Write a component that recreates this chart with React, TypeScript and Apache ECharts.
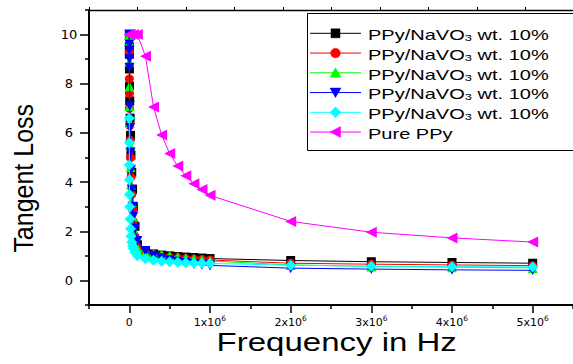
import React, { useEffect, useRef } from "react";
import * as echarts from "echarts";

const FONT = '"Liberation Sans", Arial, sans-serif';
const TICK_FONT = '"DejaVu Sans", "Liberation Sans", sans-serif';

// Frequencies (Hz) of the composite samples
const freqComposite = [
  100, 200, 500, 1e3, 2e3, 5e3, 1e4, 1.5e4, 2e4, 3e4, 4e4, 5e4, 7e4, 1e5,
  2e5, 3e5, 4e5, 5e5, 6e5, 7e5, 8e5, 9e5, 1e6, 2e6, 3e6, 4e6, 5e6,
];
const tanBlack = [
  10, 9.5, 9.2, 8.6, 7.9, 7.3, 6.6, 5.9, 5.1, 4.4, 3.7, 3.0, 2.2, 1.45,
  1.18, 1.08, 1.03, 1.0, 0.97, 0.95, 0.93, 0.91, 0.89, 0.81, 0.76, 0.73, 0.7,
];
const tanRed = [
  10, 9.3, 8.2, 7.6, 7.0, 6.3, 5.7, 5.0, 4.2, 3.5, 2.9, 2.4, 1.8, 1.35,
  1.12, 1.04, 0.99, 0.95, 0.92, 0.89, 0.87, 0.85, 0.83, 0.7, 0.66, 0.63, 0.6,
];
const tanGreen = [
  10, 9.7, 8.9, 7.9, 7.1, 6.4, 5.5, 4.6, 3.9, 3.2, 2.6, 2.1, 1.7, 1.32,
  1.15, 1.1, 1.05, 1.0, 0.95, 0.91, 0.87, 0.83, 0.79, 0.63, 0.57, 0.54, 0.51,
];
const tanBlue = [
  10, 9.6, 9.35, 9.0, 8.65, 7.1, 6.2, 5.2, 4.5, 3.7, 3.0, 2.6, 2.1, 1.6,
  1.2, 1.0, 0.9, 0.82, 0.76, 0.71, 0.67, 0.64, 0.61, 0.5, 0.46, 0.43, 0.41,
];
const tanCyan = [
  6.6, 5.6, 4.7, 4.1, 3.5, 3.0, 2.5, 2.1, 1.8, 1.55, 1.4, 1.3, 1.15, 1.0,
  0.88, 0.82, 0.78, 0.76, 0.74, 0.72, 0.71, 0.7, 0.69, 0.62, 0.58, 0.56, 0.55,
];

// Pure PPy
const freqPure = [
  100, 1e3, 1e4, 5e4, 1e5, 2e5, 3e5, 4e5, 5e5, 6e5, 7e5, 8e5, 9e5, 1e6, 2e6,
  3e6, 4e6, 5e6,
];
const tanPure = [
  10, 10, 10, 10, 10, 9.12, 7.05, 5.92, 5.16, 4.65, 4.26, 3.93, 3.7, 3.46,
  2.4, 1.96, 1.73, 1.56,
];

const xTickValues = [0, 1e6, 2e6, 3e6, 4e6, 5e6];
const yTickValues = [0, 2, 4, 6, 8, 10];
const legendLabels = [
  "PPy/NaVO3 wt. 10%",
  "PPy/NaVO3 wt. 10%",
  "PPy/NaVO3 wt. 10%",
  "PPy/NaVO3 wt. 10%",
  "PPy/NaVO3 wt. 10%",
  "Pure PPy",
];
const seriesColors = ["#000000", "#ff0000", "#00ff00", "#0000ff", "#00ffff", "#ff00ff"];
const seriesSymbols = ["rect", "circle", "triangle", "triangleDown", "diamond", "triangleLeft"];
const xTitle = "Frequency in Hz";
const yTitle = "Tangent Loss";

const seriesDefs = [
  { freq: freqComposite, vals: tanBlack },
  { freq: freqComposite, vals: tanRed },
  { freq: freqComposite, vals: tanGreen },
  { freq: freqComposite, vals: tanBlue },
  { freq: freqComposite, vals: tanCyan },
  { freq: freqPure, vals: tanPure },
];

function symbolOpts(sym: string) {
  switch (sym) {
    case "rect":
      return { symbol: "rect", symbolSize: 9, symbolRotate: 0 };
    case "circle":
      return { symbol: "circle", symbolSize: 9, symbolRotate: 0 };
    case "triangle":
      return { symbol: "triangle", symbolSize: 10, symbolRotate: 0 };
    case "triangleDown":
      return { symbol: "triangle", symbolSize: 10, symbolRotate: 180 };
    case "diamond":
      return { symbol: "diamond", symbolSize: 11, symbolRotate: 0 };
    default:
      return { symbol: "triangle", symbolSize: 11, symbolRotate: 90 };
  }
}

function legendMarker(sym: string, cx: number, cy: number, color: string) {
  const style = { fill: color, stroke: color, lineWidth: 0.5 };
  switch (sym) {
    case "rect":
      return { type: "rect", shape: { x: cx - 4.5, y: cy - 4.5, width: 9, height: 9 }, style };
    case "circle":
      return { type: "circle", shape: { cx, cy, r: 4.8 }, style };
    case "triangle":
      return { type: "polygon", shape: { points: [[cx, cy - 5], [cx + 5.5, cy + 4.5], [cx - 5.5, cy + 4.5]] }, style };
    case "triangleDown":
      return { type: "polygon", shape: { points: [[cx, cy + 5], [cx + 5.5, cy - 4.5], [cx - 5.5, cy - 4.5]] }, style };
    case "diamond":
      return { type: "polygon", shape: { points: [[cx, cy - 5.5], [cx + 5.5, cy], [cx, cy + 5.5], [cx - 5.5, cy]] }, style };
    default:
      return { type: "polygon", shape: { points: [[cx - 5.5, cy], [cx + 5, cy - 5.5], [cx + 5, cy + 5.5]] }, style };
  }
}

function legendText(label: string) {
  const idx = label.indexOf("NaVO3");
  if (idx < 0) return `{a|${label}}`;
  const before = label.slice(0, idx + 4);
  const after = label.slice(idx + 5);
  return `{a|${before}}{s|3}{a|${after}}`;
}

export default function App() {
  const ref = useRef<HTMLDivElement>(null);

  useEffect(() => {
    document.body.style.margin = "0";
    if (!ref.current) return;
    const chart = echarts.init(ref.current, null, { renderer: "svg" });

    const series = seriesDefs.map((d, i) => ({
      type: "line",
      name: legendLabels[i],
      data: d.freq.map((f, j) => [f, d.vals[j]]),
      ...symbolOpts(seriesSymbols[i]),
      showSymbol: true,
      lineStyle: { color: seriesColors[i], width: 1 },
      itemStyle: { color: seriesColors[i], borderWidth: 0 },
      xAxisIndex: 0,
      yAxisIndex: 0,
      z: 2 + i,
      emphasis: { disabled: true },
    }));

    const legendTop = 33.3;
    const legendStep = 19.75;
    const legendEls: any[] = [
      {
        type: "rect",
        shape: { x: 307.5, y: 13.5, width: 300, height: 137 },
        style: { fill: "#ffffff", stroke: "#000000", lineWidth: 1 },
        z: 100,
      },
    ];
    legendLabels.forEach((lab, i) => {
      const cy = legendTop + i * legendStep;
      legendEls.push({
        type: "line",
        shape: { x1: 310, y1: cy, x2: 361, y2: cy },
        style: { stroke: seriesColors[i], lineWidth: 1 },
        z: 101,
      });
      legendEls.push({ ...legendMarker(seriesSymbols[i], 335.5, cy, seriesColors[i]), z: 102 });
      legendEls.push({
        type: "text",
        x: 368,
        y: cy,
        scaleX: 1.43,
        z: 102,
        style: {
          text: legendText(lab),
          fill: "#000",
          fontFamily: FONT,
          fontSize: 14,
          verticalAlign: "middle",
          align: "left",
          rich: {
            a: { fontSize: 14, fontFamily: FONT, fill: "#000", lineHeight: 18, verticalAlign: "bottom" },
            s: { fontSize: 9, fontFamily: FONT, fill: "#000", lineHeight: 7, verticalAlign: "bottom" },
          },
        },
      });
    });

    const option: any = {
      animation: false,
      backgroundColor: "#ffffff",
      grid: { left: 89, top: 10, width: 499, height: 295, containLabel: false },
      xAxis: [
        {
          type: "value",
          position: "bottom",
          min: -5e5,
          max: 5.5e6,
          interval: 1e6,
          axisLine: { show: true, onZero: false, lineStyle: { color: "#000", width: 2 } },
          axisTick: { show: true, inside: false, length: 4, lineStyle: { color: "#000", width: 1.5 } },
          minorTick: { show: true, splitNumber: 2, length: 8, lineStyle: { color: "#000", width: 1.5 } },
          splitLine: { show: false },
          minorSplitLine: { show: false },
          axisLabel: {
            customValues: xTickValues,
            margin: 9,
            color: "#000",
            formatter: (v: number) => (v === 0 ? "{n|0}" : `{n|${Math.round(v / 1e6)}x10}{s|6}`),
            rich: {
              n: { fontSize: 11, fontFamily: TICK_FONT, color: "#000", lineHeight: 14, verticalAlign: "bottom" },
              s: { fontSize: 7.5, fontFamily: TICK_FONT, color: "#000", lineHeight: 14, verticalAlign: "top" },
            },
          },
        },
        {
          type: "value",
          position: "top",
          min: 0,
          max: 499,
          interval: 50,
          axisLine: { show: true, onZero: false, lineStyle: { color: "#000", width: 1.3 } },
          axisTick: { show: true, inside: false, length: 3, lineStyle: { color: "#000", width: 1 } },
          axisLabel: { show: false },
          splitLine: { show: false },
        },
      ],
      yAxis: [
        {
          type: "value",
          position: "left",
          min: -1,
          max: 11,
          interval: 2,
          axisLine: { show: true, onZero: false, lineStyle: { color: "#000", width: 2 } },
          axisTick: { show: true, inside: false, length: 4, lineStyle: { color: "#000", width: 1.5 } },
          minorTick: { show: true, splitNumber: 2, length: 9, lineStyle: { color: "#000", width: 1.5 } },
          splitLine: { show: false },
          minorSplitLine: { show: false },
          axisLabel: {
            customValues: yTickValues,
            align: "center",
            margin: 20,
            color: "#000",
            fontSize: 13,
            fontFamily: TICK_FONT,
          },
        },
      ],
      series,
      graphic: [
        ...legendEls,
        {
          type: "text",
          x: 336.7,
          y: 342,
          scaleX: 1.32,
          style: {
            text: xTitle,
            fill: "#000",
            fontFamily: FONT,
            fontSize: 25,
            align: "center",
            verticalAlign: "middle",
          },
        },
        {
          type: "text",
          x: 23.5,
          y: 178.3,
          rotation: Math.PI / 2,
          scaleY: 1.1,
          style: {
            text: yTitle,
            fill: "#000",
            fontFamily: FONT,
            fontSize: 25,
            align: "center",
            verticalAlign: "middle",
          },
        },
      ],
    };

    chart.setOption(option);
    return () => chart.dispose();
  }, []);

  return (
    <div
      ref={ref}
      style={{ position: "fixed", left: 0, top: 0, width: 573, height: 364, background: "#fff" }}
    />
  );
}
